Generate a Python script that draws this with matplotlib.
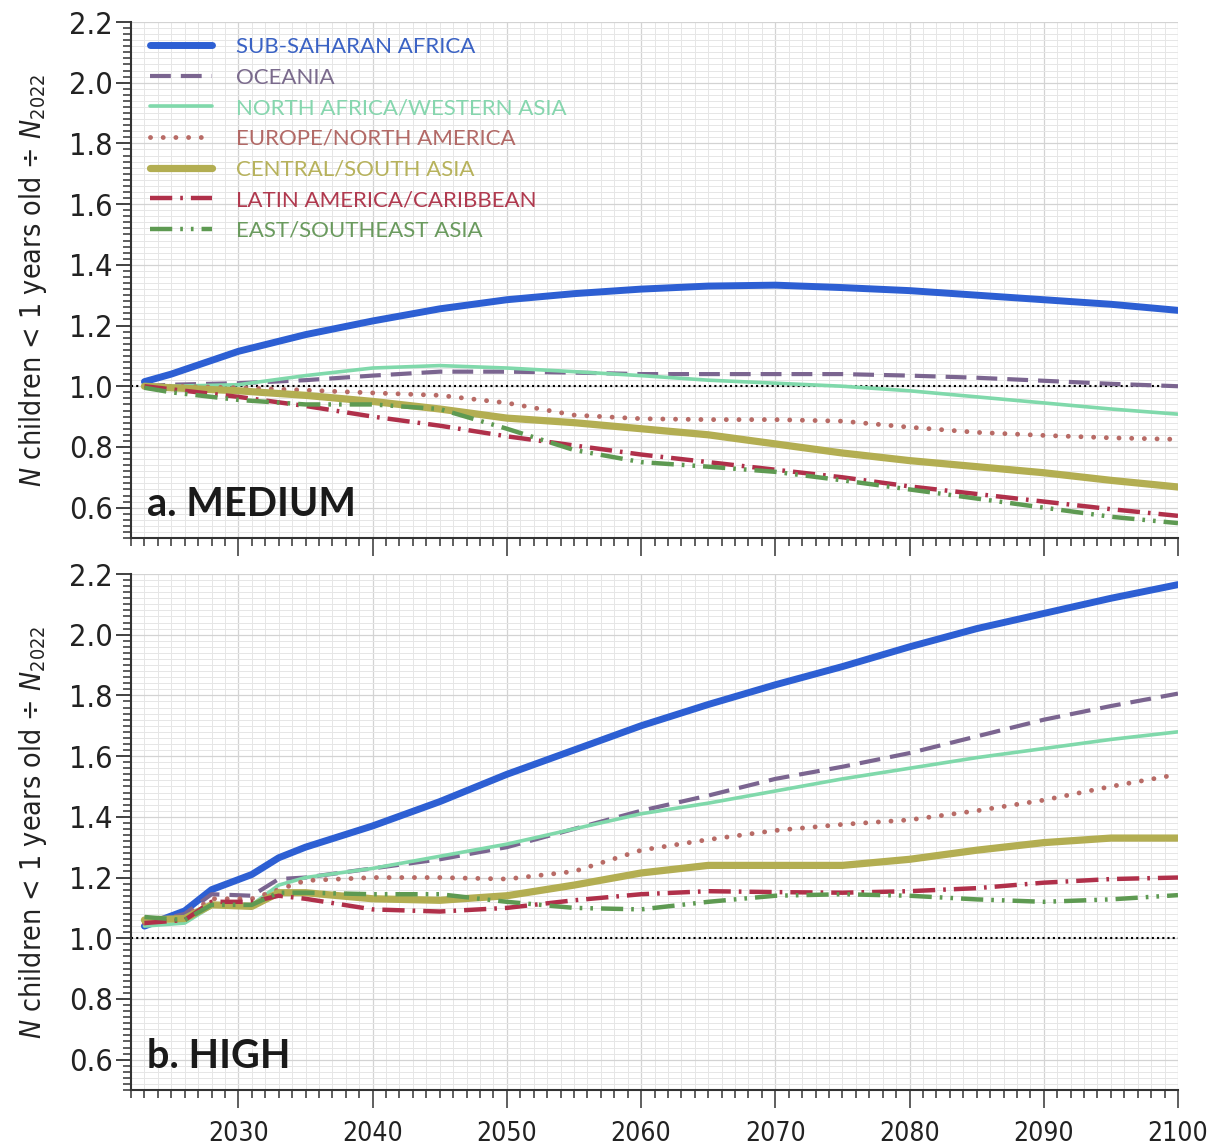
import matplotlib.pyplot as plt
from matplotlib import font_manager
from matplotlib.ticker import MultipleLocator

# pick a narrow face for ticks and axis labels if one is installed
names = {f.name for f in font_manager.fontManager.ttflist}
narrow = [f for f in font_manager.fontManager.ttflist
          if 'condensed' in str(f.stretch) or 'Narrow' in f.name or 'Condensed' in f.name]
if 'Liberation Sans Narrow' in names:
    tick_font = dict(family='Liberation Sans Narrow')
elif narrow:
    tick_font = dict(family=narrow[0].name, stretch='condensed')
else:
    tick_font = dict(family='DejaVu Sans')

plt.rcParams['mathtext.fontset'] = 'custom'
stretch_tag = ':stretch=condensed' if tick_font.get('stretch') else ''
plt.rcParams['mathtext.rm'] = tick_font['family'] + stretch_tag
plt.rcParams['mathtext.it'] = tick_font['family'] + ':italic' + stretch_tag

regions = ['SUB-SAHARAN AFRICA', 'OCEANIA', 'NORTH AFRICA/WESTERN ASIA',
           'EUROPE/NORTH AMERICA', 'CENTRAL/SOUTH ASIA',
           'LATIN AMERICA/CARIBBEAN', 'EAST/SOUTHEAST ASIA']

# medium scenario
years_medium = [2023, 2025, 2030, 2035, 2040, 2045, 2050, 2055, 2060,
                2065, 2070, 2075, 2080, 2085, 2090, 2095, 2100]
ssa_medium = [1.015, 1.04, 1.115, 1.17, 1.215, 1.255, 1.285, 1.305, 1.32,
              1.33, 1.333, 1.325, 1.315, 1.3, 1.285, 1.27, 1.25]
oce_medium = [1.0, 1.005, 1.01, 1.02, 1.035, 1.048, 1.048, 1.045, 1.04,
              1.04, 1.04, 1.04, 1.035, 1.028, 1.018, 1.008, 1.0]
nawa_medium = [1.0, 1.0, 1.005, 1.035, 1.06, 1.068, 1.06, 1.048, 1.035,
               1.02, 1.01, 1.0, 0.985, 0.965, 0.945, 0.925, 0.908]
euna_medium = [1.0, 1.0, 0.995, 0.987, 0.978, 0.97, 0.945, 0.905, 0.893,
               0.89, 0.89, 0.885, 0.865, 0.848, 0.838, 0.83, 0.825]
csa_medium = [1.0, 0.995, 0.985, 0.97, 0.95, 0.925, 0.895, 0.88, 0.86,
              0.84, 0.81, 0.78, 0.755, 0.735, 0.715, 0.69, 0.668]
lac_medium = [1.0, 0.99, 0.965, 0.935, 0.9, 0.87, 0.835, 0.805, 0.775,
              0.75, 0.725, 0.7, 0.67, 0.645, 0.62, 0.595, 0.573]
esa_medium = [0.995, 0.98, 0.955, 0.94, 0.94, 0.925, 0.86, 0.79, 0.75,
              0.735, 0.718, 0.69, 0.66, 0.63, 0.6, 0.57, 0.549]

# high scenario
years_high = [2023, 2026, 2028, 2031, 2033, 2035, 2040, 2045, 2050, 2055,
              2060, 2065, 2070, 2075, 2080, 2085, 2090, 2095, 2100]
ssa_high = [1.04, 1.09, 1.16, 1.21, 1.265, 1.3, 1.37, 1.45, 1.54, 1.62,
            1.7, 1.77, 1.835, 1.895, 1.96, 2.02, 2.07, 2.12, 2.165]
oce_high = [1.05, 1.08, 1.145, 1.14, 1.195, 1.2, 1.23, 1.26, 1.3, 1.36,
            1.42, 1.47, 1.525, 1.565, 1.61, 1.665, 1.72, 1.765, 1.806]
nawa_high = [1.04, 1.05, 1.105, 1.11, 1.175, 1.2, 1.23, 1.27, 1.31, 1.36,
             1.41, 1.445, 1.485, 1.525, 1.56, 1.595, 1.625, 1.655, 1.68]
euna_high = [1.05, 1.07, 1.13, 1.13, 1.16, 1.19, 1.2, 1.2, 1.195, 1.22,
             1.29, 1.325, 1.355, 1.375, 1.39, 1.42, 1.455, 1.5, 1.54]
csa_high = [1.06, 1.065, 1.11, 1.105, 1.15, 1.15, 1.13, 1.125, 1.14, 1.175,
            1.215, 1.24, 1.24, 1.24, 1.26, 1.29, 1.315, 1.33, 1.33]
lac_high = [1.05, 1.06, 1.12, 1.12, 1.14, 1.13, 1.095, 1.088, 1.1, 1.125,
            1.145, 1.155, 1.152, 1.15, 1.155, 1.165, 1.183, 1.195, 1.2]
esa_high = [1.07, 1.06, 1.11, 1.11, 1.15, 1.15, 1.145, 1.145, 1.12, 1.1,
            1.095, 1.12, 1.14, 1.145, 1.14, 1.128, 1.12, 1.128, 1.142]

medium = [ssa_medium, oce_medium, nawa_medium, euna_medium, csa_medium,
          lac_medium, esa_medium]
high = [ssa_high, oce_high, nawa_high, euna_high, csa_high, lac_high, esa_high]

styles = [
    dict(color='#2d5fd3', lw=5.0, ls='-'),
    dict(color='#7b6590', lw=3.0, ls=(0, (5, 2.4))),
    dict(color='#80d9ab', lw=2.6, ls='-'),
    dict(color='#b86b66', lw=3.5, ls=(0, (0.01, 2.6)), dash_capstyle='round'),
    dict(color='#b3ae52', lw=5.2, ls='-'),
    dict(color='#b0304a', lw=3.2, ls=(0, (5, 1.8, 0.6, 1.8))),
    dict(color='#5e9a52', lw=3.2, ls=(0, (5, 1.8, 0.6, 1.8, 0.6, 1.8))),
]
text_colors = ['#3a62c4', '#7a6a8c', '#86d6ae', '#b26966', '#b7b25c',
               '#b03a4f', '#6a9a5e']

fig = plt.figure(figsize=(12.12, 11.45), dpi=100)
ax1 = fig.add_axes([131 / 1212, 1 - 538 / 1145, 1047 / 1212, 516 / 1145])
ax2 = fig.add_axes([131 / 1212, 1 - 1090 / 1145, 1047 / 1212, 516 / 1145])

for ax, years, data, label in [(ax1, years_medium, medium, 'a. MEDIUM'),
                               (ax2, years_high, high, 'b. HIGH')]:
    ax.axhline(1.0, color='black', lw=1.5, ls=(0, (1, 1.5)), zorder=2)
    for values, style, name in zip(data, styles, regions):
        ax.plot(years, values, label=name, zorder=3, solid_capstyle='round', **style)

    ax.set_xlim(2022, 2100)
    ax.set_ylim(0.5, 2.2)
    ax.xaxis.set_major_locator(MultipleLocator(10))
    ax.xaxis.set_minor_locator(MultipleLocator(1))
    ax.yaxis.set_major_locator(MultipleLocator(0.2))
    ax.yaxis.set_minor_locator(MultipleLocator(0.02))
    ax.yaxis.set_major_formatter(lambda v, p: f'{v:.1f}')
    ax.grid(which='minor', color='#e6e6e6', lw=0.7)
    ax.grid(which='major', color='#d3d3d3', lw=0.9)
    ax.set_axisbelow(True)
    for side in ['top', 'right']:
        ax.spines[side].set_visible(False)
    for side in ['left', 'bottom']:
        ax.spines[side].set_color('#333333')
        ax.spines[side].set_linewidth(1.5)
    ax.tick_params(axis='y', which='major', length=11, width=1.3, color='#333333', pad=2)
    ax.tick_params(axis='y', which='minor', length=6, width=1.1, color='#333333')
    ax.tick_params(axis='x', which='major', length=13, width=1.1, color='#333333', pad=9)
    ax.tick_params(axis='x', which='minor', length=6, width=1.1, color='#333333')
    for t in ax.get_yticklabels():
        t.set(**tick_font, fontsize=22, color='#222222')
    for t in ax.get_xticklabels():
        t.set(**tick_font, fontsize=19, color='#222222')
    ax.set_ylabel(r'$N$ children < 1 years old ÷ $N_{2022}$', fontsize=20.5,
                  color='#222222', **tick_font)
    ax.text(0.015, 0.03, label, transform=ax.transAxes, fontfamily='Lato',
            fontweight='bold', fontsize=28.5, color='#1a1a1a', ha='left', va='bottom')

ax1.tick_params(axis='x', labelbottom=False)
ax1.yaxis.set_label_coords(-0.078, 0.5)
ax2.yaxis.set_label_coords(-0.078, 0.5)

leg = ax1.legend(loc='upper left', bbox_to_anchor=(0.005, 0.997), frameon=False,
                 prop={'family': 'Lato', 'size': 16}, handlelength=2.8,
                 handletextpad=1.1, labelspacing=0.48, borderaxespad=0.2)
for txt, c in zip(leg.get_texts(), text_colors):
    txt.set_color(c)

fig.savefig('out.png', dpi=100)
